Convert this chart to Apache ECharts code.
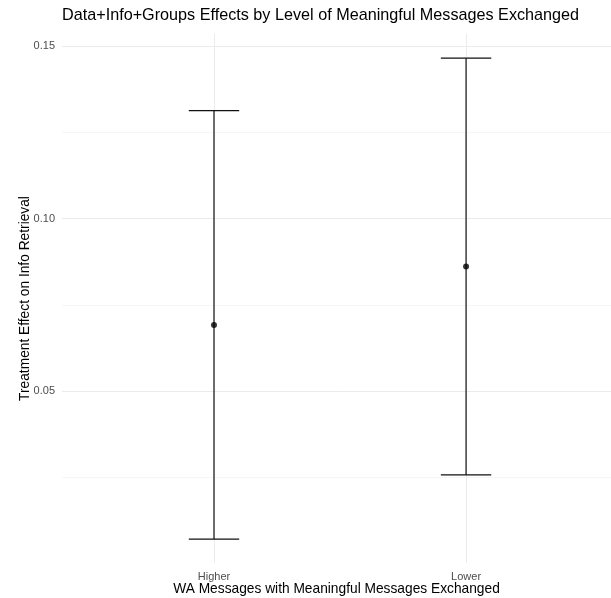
<!DOCTYPE html>
<html>
<head>
<meta charset="utf-8">
<script src="https://cdn.jsdelivr.net/npm/echarts@6/dist/echarts.min.js"></script>
<style>
html,body{margin:0;padding:0;background:#fff;overflow:hidden;}
#chart{width:611px;height:598px;}
</style>
</head>
<body>
<div id="chart"></div>
<script>
const categories = ['Higher', 'Lower'];
const estimates = [0.0692, 0.0862];
const lowerCI = [0.0072, 0.0258];
const upperCI = [0.1313, 0.1465];
const yMajorTicks = [0.05, 0.10, 0.15];
const yMinorTicks = [0.025, 0.075, 0.125];
const yTickLabels = ['0.05', '0.10', '0.15'];
const titleText = 'Data+Info+Groups Effects by Level of Meaningful Messages Exchanged';
const xTitle = 'WA Messages with Meaningful Messages Exchanged';
const yTitle = 'Treatment Effect on Info Retrieval';

const xPositions = categories.map((c, i) => i + 1);
const FONT = '"Liberation Sans", Arial, Helvetica, sans-serif';

const barData = categories.map((c, i) => [xPositions[i], lowerCI[i], upperCI[i]]);
const pointData = categories.map((c, i) => [xPositions[i], estimates[i]]);

const chart = echarts.init(document.getElementById('chart'), null, {renderer: 'canvas'});
const option = {
  animation: false,
  backgroundColor: '#ffffff',
  title: {
    text: titleText,
    left: 62, top: 8, padding: 0,
    textStyle: {fontFamily: FONT, fontSize: 16.2, fontWeight: 'normal', color: '#000000'}
  },
  grid: {left: 62, top: 34, right: 0, bottom: 35, outerBoundsMode: 'none', containLabel: false},
  xAxis: {
    type: 'value', min: 0.397, max: 2.575,
    name: xTitle, nameLocation: 'middle', nameGap: 19, nameMoveOverlap: false,
    nameTextStyle: {fontFamily: FONT, fontSize: 13.75, color: '#000000'},
    axisLine: {show: false},
    axisTick: {show: false, customValues: xPositions},
    axisLabel: {
      customValues: xPositions, margin: 8,
      fontFamily: FONT, fontSize: 11, color: '#4d4d4d',
      formatter: v => categories[Math.round(v) - 1] || ''
    },
    splitLine: {show: true, lineStyle: {color: '#ebebeb', width: 1}}
  },
  yAxis: [{
    type: 'value', min: 0.0003, max: 0.1535,
    name: yTitle, nameLocation: 'middle', nameGap: 30, nameMoveOverlap: false,
    nameTextStyle: {fontFamily: FONT, fontSize: 13.75, color: '#000000'},
    axisLine: {show: false},
    axisTick: {show: false, customValues: yMajorTicks},
    axisLabel: {
      customValues: yMajorTicks, margin: 7,
      fontFamily: FONT, fontSize: 11, color: '#4d4d4d',
      formatter: v => yTickLabels[yMajorTicks.findIndex(t => Math.abs(t - v) < 1e-9)] || ''
    },
    splitLine: {show: true, lineStyle: {color: '#ebebeb', width: 1}}
  }, {
    type: 'value', min: 0.0003, max: 0.1535, position: 'left',
    axisLine: {show: false},
    axisTick: {show: false, customValues: yMinorTicks},
    axisLabel: {show: false, customValues: yMinorTicks},
    splitLine: {show: true, lineStyle: {color: '#f0f0f0', width: 0.6}}
  }],
  series: [{
    type: 'custom',
    data: barData,
    yAxisIndex: 0,
    renderItem: function (params, api) {
      const x = api.value(0), lo = api.value(1), hi = api.value(2);
      const top = api.coord([x, hi]);
      const bot = api.coord([x, lo]);
      const capL = api.coord([x - 0.1, hi])[0];
      const capR = api.coord([x + 0.1, hi])[0];
      const style = {stroke: '#111111', lineWidth: 1.2, fill: null};
      return {
        type: 'group',
        children: [
          {type: 'line', shape: {x1: top[0], y1: top[1], x2: bot[0], y2: bot[1]}, style: style},
          {type: 'line', shape: {x1: capL, y1: top[1], x2: capR, y2: top[1]}, style: style},
          {type: 'line', shape: {x1: capL, y1: bot[1], x2: capR, y2: bot[1]}, style: style}
        ]
      };
    },
    z: 2
  }, {
    type: 'scatter',
    data: pointData,
    symbol: 'circle', symbolSize: 6,
    itemStyle: {color: '#000000'},
    z: 3
  }]
};
chart.setOption(option);
</script>
</body>
</html>
